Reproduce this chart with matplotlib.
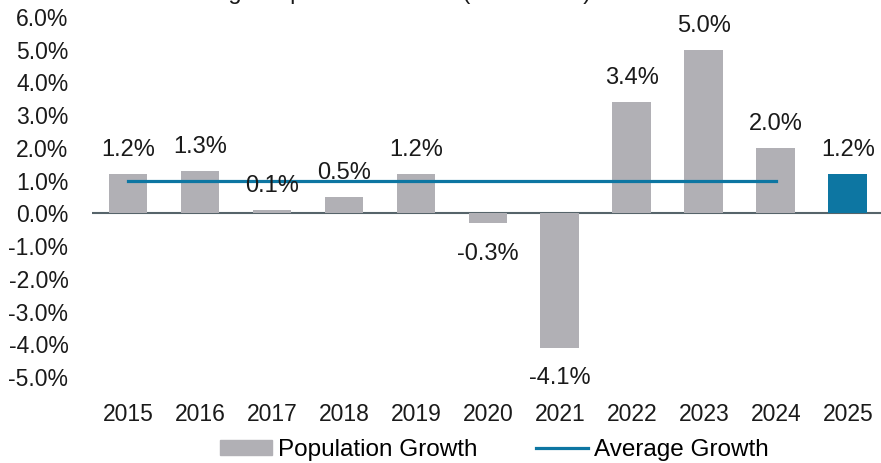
"""
Average population growth bar chart with average line.
"""

import matplotlib
matplotlib.use("Agg")
import matplotlib.pyplot as plt
import numpy as np
from matplotlib.patches import Patch
from matplotlib.lines import Line2D

years = ["2015", "2016", "2017", "2018", "2019", "2020",
         "2021", "2022", "2023", "2024", "2025"]
growth = [1.2, 1.3, 0.1, 0.5, 1.2, -0.3, -4.1, 3.4, 5.0, 2.0, 1.2]
avg_growth = 1.0  # average over 2015-2024
y_ticks = [6, 5, 4, 3, 2, 1, 0, -1, -2, -3, -4, -5]

grey = "#b1b0b5"
blue = "#0d76a2"

plt.rcParams["font.family"] = ["Liberation Sans", "DejaVu Sans"]

fig = plt.figure(figsize=(8.81, 4.63), dpi=100)
ax = fig.add_axes([92 / 881, 1 - 377 / 463, 1 - 92 / 881, (377 - 17) / 463])

x = np.arange(len(years))
colors = [grey] * (len(years) - 1) + [blue]
ax.bar(x, growth, width=0.54, color=colors, zorder=2)

# average line across the historical years (2015 - 2024)
ax.plot(x[:-1], [avg_growth] * (len(x) - 1), color=blue, lw=2.3, zorder=3)

for xi, v in zip(x, growth):
    off = 17 if v >= 0 else -22
    ax.annotate(f"{v:.1f}%", (xi, v), xytext=(0, off), textcoords="offset points",
                ha="center", va="center", fontsize=17, color="#1a1a1a", zorder=4)

ax.axhline(0, color="#56646a", lw=1.5, zorder=1)
ax.set_ylim(-5, 6)
ax.set_xlim(-0.5, 10.46)
ax.set_yticks(y_ticks)
ax.set_yticklabels([f"{t:.1f}%" for t in y_ticks])
ax.set_xticks(x)
ax.set_xticklabels(years)
ax.tick_params(axis="both", length=0, labelsize=16.5, colors="#1a1a1a")
ax.tick_params(axis="x", pad=19)
ax.tick_params(axis="y", pad=17)
for s in ax.spines.values():
    s.set_visible(False)

# legend
handles = [Patch(color=grey), Line2D([0], [0], color=blue, lw=2.3)]
fig.legend(handles, ["Population Growth", "Average Growth"], loc="center",
           bbox_to_anchor=(0.561, 1 - 450 / 463), ncol=2, frameon=False,
           fontsize=17.5, handlelength=2.15, handleheight=0.6, handletextpad=0.25,
           columnspacing=2.4)

# title sits mostly above the canvas, only descenders show
fig.text(0.43, 1 - 4 / 463, "Average Population Growth (2015-2025)", ha="center",
         va="bottom", fontsize=17, color="#1a1a1a")

fig.savefig("out.png", dpi=100)
